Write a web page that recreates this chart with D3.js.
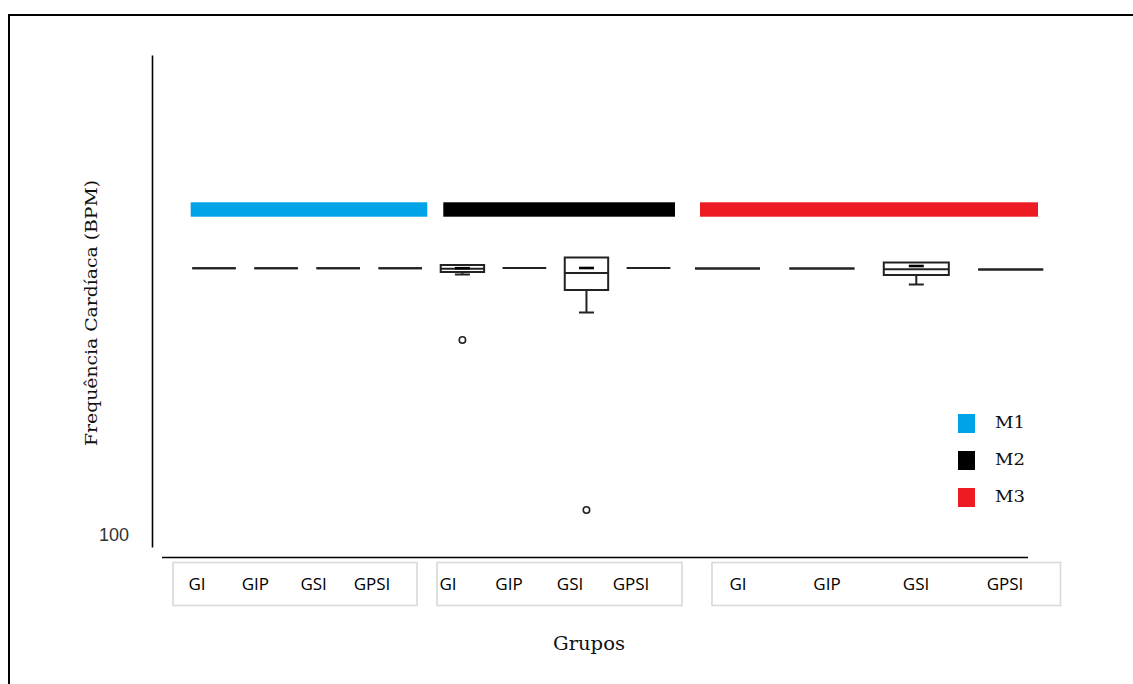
<!DOCTYPE html>
<html>
<head>
<meta charset="utf-8">
<script src="https://cdn.jsdelivr.net/npm/d3@7"></script>
<style>
  body { margin: 0; background: #fff; }
  svg { display: block; }
</style>
</head>
<body>
<div id="chart"></div>
<script>
// groups and moments
const groups = ['GI', 'GIP', 'GSI', 'GPSI'];
const moments = ['M1', 'M2', 'M3'];
const momentColors = ['#00A2E8', '#000000', '#ED1C24'];

// box stats, 12 entries each (M1 GI..GPSI, M2 GI..GPSI, M3 GI..GPSI), in BPM
const whiskerLow  = [126.67, 126.67, 126.67, 126.67, 126.05, 126.7, 122.25, 126.7, 126.65, 126.65, 125.05, 126.55];
const q1          = [126.67, 126.67, 126.67, 126.67, 126.3,  126.7, 124.5,  126.7, 126.65, 126.65, 126.0,  126.55];
const median      = [126.67, 126.67, 126.67, 126.67, 126.62, 126.7, 126.2,  126.7, 126.65, 126.65, 126.57, 126.55];
const q3          = [126.67, 126.67, 126.67, 126.67, 127.0,  126.7, 127.75, 126.7, 126.65, 126.65, 127.25, 126.55];
const whiskerHigh = [126.67, 126.67, 126.67, 126.67, 127.0,  126.7, 127.75, 126.7, 126.65, 126.65, 127.25, 126.55];
const mean        = [null, null, null, null, 126.68, null, 126.7, null, null, null, 126.9, null];
const outliers    = [[], [], [], [], [119.5], [], [102.5], [], [], [], [], []];

const yTicks = [100];

const W = 1133, H = 684;
const svg = d3.select('#chart').append('svg').attr('width', W).attr('height', H);

// frame of the pasted figure
svg.append('path').attr('d', `M9,${H} V15 H${W}`).attr('fill', 'none').attr('stroke', '#000').attr('stroke-width', 2);

// layout of the three facets
const panels = [
  { box: [192.3, 422], strip: [190.7, 427.3], labelBox: [173, 417], labels: [197, 372], pad: 0.3 },
  { box: [440.7, 670.2], strip: [443.3, 675], labelBox: [437, 682], labels: [448, 631], pad: 0.3 },
  { box: [695, 1043.2], strip: [700, 1038], labelBox: [712, 1060.5], labels: [738, 1005], pad: 0.311 }
];

const y = d3.scaleLinear().domain([98.8, 148]).range([547, 55]);

// y axis
const yAxis = svg.append('g')
  .attr('transform', 'translate(152,0)')
  .call(d3.axisLeft(y).tickValues(yTicks).tickSize(0).tickPadding(23).tickFormat(d3.format('d')));
yAxis.select('.domain').attr('stroke', '#000').attr('stroke-width', 1.6);
yAxis.selectAll('text').attr('font-family', '"Liberation Sans", Arial, sans-serif').attr('font-size', 18).attr('fill', '#333');

// x axis base line
svg.append('line').attr('x1', 162).attr('x2', 1028).attr('y1', 557.5).attr('y2', 557.5)
  .attr('stroke', '#000').attr('stroke-width', 1.6);

const ink = '#222';
const sw = 2;

moments.forEach((m, mi) => {
  const p = panels[mi];
  const x = d3.scaleBand().domain(groups).range(p.box).paddingInner(p.pad).paddingOuter(0);
  const bw = x.bandwidth();

  // facet strip
  svg.append('rect')
    .attr('x', p.strip[0]).attr('y', 202.3)
    .attr('width', p.strip[1] - p.strip[0]).attr('height', 14.4)
    .attr('fill', momentColors[mi]);

  const g = svg.append('g');
  groups.forEach((grp, gi) => {
    const i = mi * 4 + gi;
    const x0 = x(grp), x1 = x0 + bw, cx = x0 + bw / 2;
    const cap = 7.5;

    // whiskers
    if (whiskerLow[i] < q1[i]) {
      g.append('line').attr('x1', cx).attr('x2', cx).attr('y1', y(q1[i])).attr('y2', y(whiskerLow[i]))
        .attr('stroke', ink).attr('stroke-width', sw);
      g.append('line').attr('x1', cx - cap).attr('x2', cx + cap).attr('y1', y(whiskerLow[i])).attr('y2', y(whiskerLow[i]))
        .attr('stroke', ink).attr('stroke-width', sw);
    }
    if (whiskerHigh[i] > q3[i]) {
      g.append('line').attr('x1', cx).attr('x2', cx).attr('y1', y(q3[i])).attr('y2', y(whiskerHigh[i]))
        .attr('stroke', ink).attr('stroke-width', sw);
      g.append('line').attr('x1', cx - cap).attr('x2', cx + cap).attr('y1', y(whiskerHigh[i])).attr('y2', y(whiskerHigh[i]))
        .attr('stroke', ink).attr('stroke-width', sw);
    }

    // box (path so that a flat box still shows as a line)
    g.append('path')
      .attr('d', `M${x0},${y(q3[i])} H${x1} V${y(q1[i])} H${x0} Z`)
      .attr('fill', '#fff').attr('stroke', ink).attr('stroke-width', sw);
    g.append('line').attr('x1', x0).attr('x2', x1).attr('y1', y(median[i])).attr('y2', y(median[i]))
      .attr('stroke', ink).attr('stroke-width', sw);

    // mean dash
    if (mean[i] != null) {
      g.append('line').attr('x1', cx - cap).attr('x2', cx + cap).attr('y1', y(mean[i])).attr('y2', y(mean[i]))
        .attr('stroke', '#000').attr('stroke-width', 2.6);
    }

    // outliers
    g.selectAll(null).data(outliers[i]).join('circle')
      .attr('cx', cx).attr('cy', d => y(d)).attr('r', 3.2)
      .attr('fill', 'none').attr('stroke', ink).attr('stroke-width', 1.6);
  });

  // group label box
  svg.append('rect')
    .attr('x', p.labelBox[0]).attr('y', 562.5)
    .attr('width', p.labelBox[1] - p.labelBox[0]).attr('height', 43)
    .attr('fill', 'none').attr('stroke', '#d9d9d9').attr('stroke-width', 1.6);
  const lx = d3.scalePoint().domain(groups).range(p.labels);
  svg.append('g').selectAll('text').data(groups).join('text')
    .attr('x', d => lx(d)).attr('y', 590)
    .attr('text-anchor', 'middle')
    .attr('font-family', '"Open Sans", sans-serif').attr('font-size', 17).attr('fill', '#000')
    .text(d => d);
});

// legend
const legend = svg.append('g').attr('transform', 'translate(958,414)');
moments.forEach((m, i) => {
  const row = legend.append('g').attr('transform', `translate(0,${i * 37})`);
  row.append('rect').attr('width', 17).attr('height', 19).attr('fill', momentColors[i]);
  row.append('text').attr('x', 37).attr('y', 14)
    .attr('font-family', '"DejaVu Serif", serif').attr('font-size', 17).attr('fill', '#111')
    .attr('textLength', 30).attr('lengthAdjust', 'spacingAndGlyphs')
    .text(m);
});

// axis titles
svg.append('text')
  .attr('transform', 'translate(97,313) rotate(-90)')
  .attr('text-anchor', 'middle')
  .attr('font-family', '"DejaVu Serif", serif').attr('font-size', 16).attr('fill', '#111')
  .attr('textLength', 266).attr('lengthAdjust', 'spacingAndGlyphs')
  .text('Frequência Cardíaca (BPM)');

svg.append('text')
  .attr('x', 589).attr('y', 650)
  .attr('text-anchor', 'middle')
  .attr('font-family', '"DejaVu Serif", serif').attr('font-size', 18).attr('fill', '#111')
  .attr('textLength', 72).attr('lengthAdjust', 'spacingAndGlyphs')
  .text('Grupos');
</script>
</body>
</html>
